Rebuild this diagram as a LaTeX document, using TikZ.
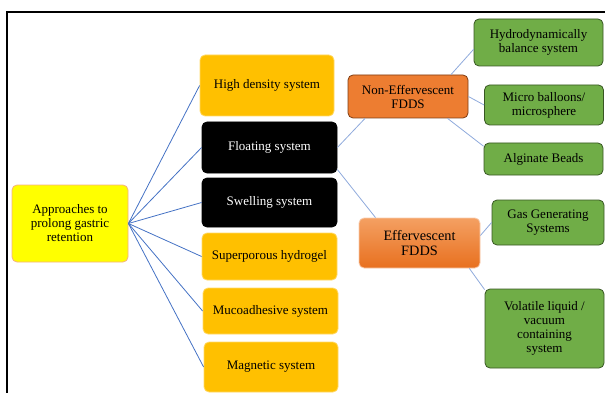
\documentclass[tikz,border=0pt]{standalone}
\usepackage{fontspec}
\setmainfont{Liberation Serif}

\definecolor{rootyellow}{HTML}{FFFF00}
\definecolor{rootedge}{HTML}{F4B183}
\definecolor{midgold}{HTML}{FFC000}
\definecolor{midedge}{HTML}{FFD966}
\definecolor{nonorange}{HTML}{ED7D31}
\definecolor{nonedge}{HTML}{7E3C12}
\definecolor{efftop}{HTML}{F4A062}
\definecolor{effbottom}{HTML}{E8701F}
\definecolor{effedge}{HTML}{F8CBAD}
\definecolor{leafgreen}{HTML}{70AD47}
\definecolor{leafedge}{HTML}{385723}
\definecolor{linkblue}{HTML}{4472C4}
\definecolor{sublinkblue}{HTML}{8FAADC}

\tikzset{
    box/.style={rounded corners=5pt, align=center, inner sep=2pt, line width=0.8pt},
    size/.style 2 args={minimum width=#1pt, minimum height=#2pt},
    rootbox/.style={box, fill=rootyellow, draw=rootedge},
    goldbox/.style={box, fill=midgold, draw=midedge},
    blackbox/.style={box, fill=black, draw=black, text=white},
    nonbox/.style={box, fill=nonorange, draw=nonedge},
    effbox/.style={box, top color=efftop, bottom color=effbottom, draw=effedge,
        font=\fontsize{14.3}{15.5}\selectfont},
    leafbox/.style={box, fill=leafgreen, draw=leafedge},
    link/.style={draw=linkblue, line width=0.8pt},
    sublink/.style={draw=sublinkblue, line width=0.8pt}
}

\begin{document}
\begin{tikzpicture}[x=1pt,y=-1pt,font=\fontsize{13}{14}\selectfont]
    \useasboundingbox (0,0) rectangle (605,393);

    % frame
    \draw[line width=1.2pt] (7,393) -- (7,12) -- (605,12);

    % root
    \node[rootbox, size={116}{77}] (root) at (70,223.5)
        {Approaches to\\prolong gastric\\retention};

    % middle column
    \node[goldbox, size={134}{61}] (high) at (267,85.5) {High density system};
    \node[blackbox, size={135}{51}] (float) at (269.5,147.5) {Floating system};
    \node[blackbox, size={135}{49}] (swell) at (269.5,202.5) {Swelling system};
    \node[goldbox, size={135}{47}] (super) at (269.5,256.5) {Superporous hydrogel};
    \node[goldbox, size={135}{46}] (muco) at (270.5,311) {Mucoadhesive system};
    \node[goldbox, size={134}{50}] (magn) at (271,367) {Magnetic system};

    % floating branches
    \node[nonbox, size={120}{43}] (noneff) at (408,96.5) {Non-Effervescent\\FDDS};
    \node[effbox, size={121}{50}] (eff) at (419.5,243) {Effervescent\\FDDS};

    % leaves
    \node[leafbox, size={129}{47}] (hydro) at (538.5,42.5) {Hydrodynamically\\balance system};
    \node[leafbox, size={119}{40}] (micro) at (544,105) {Micro balloons/\\microsphere};
    \node[leafbox, size={119}{32}] (alg) at (543.5,159) {Alginate Beads};
    \node[leafbox, size={112}{45}] (gas) at (548,222.5) {Gas Generating\\Systems};
    \node[leafbox, size={119}{79}] (vol) at (544.5,328.5)
        {Volatile liquid /\\vacuum\\containing\\system};

    % connectors from the root
    \foreach \n in {high,float,swell,super,muco,magn} {
        \draw[link] (root.east) -- (\n.west);
    }

    % connectors of the floating system
    \draw[sublink] (float.east) -- (noneff.207);
    \draw[sublink] (float.-18) -- (eff.150);
    \draw[sublink] (noneff.27) -- (hydro.186);
    \draw[sublink] (noneff.east) -- (micro.west);
    \draw[sublink] (noneff.-29) -- (alg.168);
    \draw[sublink] (eff.7) -- (gas.west);
    \draw[sublink] (eff.-27) -- (vol.147);
\end{tikzpicture}
\end{document}
